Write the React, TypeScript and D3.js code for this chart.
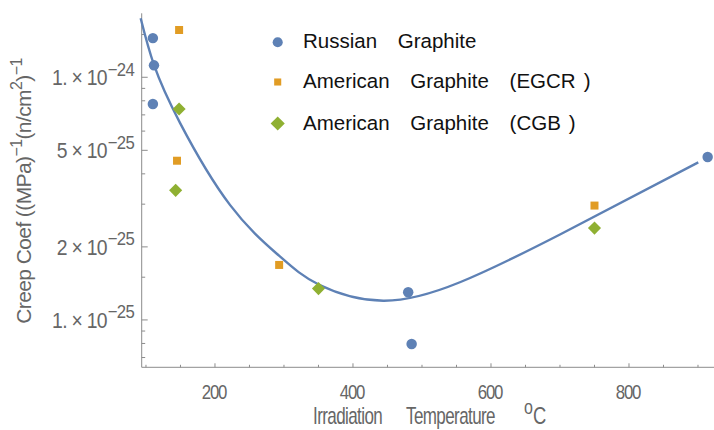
import React from 'react';
import * as d3 from 'd3';

// Russian graphite
const russianTemp = [110, 111.6, 110, 480, 485, 914];
const russianCoef = [1.45e-24, 1.12e-24, 7.76e-25, 1.3e-25, 7.96e-26, 4.69e-25];
// American graphite (EGCR)
const egcrTemp = [148, 145, 293, 750];
const egcrCoef = [1.566e-24, 4.53e-25, 1.685e-25, 2.96e-25];
// American graphite (CGB)
const cgbTemp = [148, 143, 350, 750];
const cgbCoef = [7.4e-25, 3.42e-25, 1.346e-25, 2.39e-25];
// fitted curve
const fitTemp = [92.3, 111.6, 149.3, 221.7, 292.8, 350.3, 443.9, 555, 700, 900.4];
const fitCoef = [1.75e-24, 1.124e-24, 6.49e-25, 2.98e-25, 1.84e-25, 1.40e-25, 1.2e-25, 1.43e-25, 2.25e-25, 4.46e-25];

const xMajorTicks = [200, 400, 600, 800];
const xMinorTicks = [100, 150, 250, 300, 350, 450, 500, 550, 650, 700, 750, 850, 900];
const yMajorTicks = [1e-24, 5e-25, 2e-25, 1e-25];
const yMantissa = ['1.', '5', '2', '1.'];
const yExponent = ['\u221224', '\u221225', '\u221225', '\u221225'];
const yMinorTicks = [1.5e-24, 9e-25, 8e-25, 7e-25, 6e-25, 4e-25, 3e-25, 1.5e-25, 9e-26, 8e-26, 7e-26];

const legendWords = [['Russian', 'Graphite'], ['American', 'Graphite', '(EGCR'], ['American', 'Graphite', '(CGB']];
const legendClose = ['', ')', ')'];

const BLUE = '#5E81B5';
const ORANGE = '#E19C24';
const GREEN = '#8FB032';
const AXIS = '#8c8c8c';
const TEXT = '#666666';
const FONT = '"Liberation Sans", Arial, sans-serif';

export default function App() {
  const W = 714, H = 430;
  const x = d3.scaleLinear().domain([93.8, 923.2]).range([141.7, 714]);
  const y = d3.scaleLog().domain([6.38e-26, 1.835e-24]).range([367.3, 13.3]);
  const x0 = x.range()[0];
  const yb = y.range()[0];

  const fitPts: [number, number][] = fitTemp.map((t, i) => [x(t), y(fitCoef[i])]);
  const line = d3.line().curve(d3.curveNatural)(fitPts) || '';

  const circle = d3.symbol(d3.symbolCircle, 86)() || '';
  const square = d3.symbol(d3.symbolSquare, 64)() || '';
  const diamond = d3.symbol(d3.symbolSquare, 86)() || '';
  const lCircle = d3.symbol(d3.symbolCircle, 80)() || '';
  const lSquare = d3.symbol(d3.symbolSquare, 50)() || '';
  const lDiamond = d3.symbol(d3.symbolSquare, 100)() || '';

  const legendMarkers = [
    { d: lCircle, fill: BLUE, rot: 0 },
    { d: lSquare, fill: ORANGE, rot: 0 },
    { d: lDiamond, fill: GREEN, rot: 45 },
  ];
  const legendRowY = [42.3, 82, 123.5];

  return (
    <svg width={W} height={H} style={{ position: 'absolute', left: 0, top: 0, background: '#fff' }} fontFamily={FONT}>
      {/* axes */}
      <line x1={x0} x2={x0} y1={13.3} y2={yb} stroke={AXIS} strokeWidth={1} />
      <line x1={x0} x2={W} y1={yb} y2={yb} stroke={AXIS} strokeWidth={1} />
      {xMajorTicks.map((t) => (
        <line key={'xM' + t} x1={x(t)} x2={x(t)} y1={yb} y2={yb - 4} stroke={AXIS} />
      ))}
      {xMinorTicks.map((t) => (
        <line key={'xm' + t} x1={x(t)} x2={x(t)} y1={yb} y2={yb - 2.5} stroke={AXIS} />
      ))}
      {yMajorTicks.map((v) => (
        <line key={'yM' + v} x1={x0} x2={x0 + 6} y1={y(v)} y2={y(v)} stroke={AXIS} />
      ))}
      {yMinorTicks.map((v) => (
        <line key={'ym' + v} x1={x0} x2={x0 + 3.5} y1={y(v)} y2={y(v)} stroke={AXIS} />
      ))}
      {xMajorTicks.map((t) => (
        <text key={'xl' + t} transform={`translate(${x(t) - 1},399) scale(0.8,1)`} textAnchor="middle" fontSize={21} letterSpacing={-1.5} fill={TEXT}>
          {t}
        </text>
      ))}
      {yMajorTicks.map((v, i) => (
        <text key={'yl' + v} transform={`translate(134,${y(v) + 8}) scale(0.88,1)`} textAnchor="end" fontSize={22} letterSpacing={-0.8} fill={TEXT}>
          {yMantissa[i] + ' \u00d7 10'}
          <tspan dx={1} dy={-9.5} fontSize={19}>{yExponent[i]}</tspan>
        </text>
      ))}
      {/* axis titles */}
      <text transform="translate(313,424) scale(0.74,1)" fontSize={23} letterSpacing={-0.8} fill={TEXT}>Irradiation</text>
      <text transform="translate(406,424) scale(0.74,1)" fontSize={23} letterSpacing={-0.8} fill={TEXT}>Temperature</text>
      <text transform="translate(524,424) scale(0.8,1)" fontSize={23} fill={TEXT}>
        <tspan dy={-10} fontSize={20}>o</tspan>
        <tspan dx={0} dy={10}>C</tspan>
      </text>
      <text transform={`translate(31,191) rotate(-90)`} textAnchor="middle" fontSize={21} letterSpacing={-0.6} fill={TEXT}>
        Creep Coef ((MPa)
        <tspan dy={-9} fontSize={16}>{'\u22121'}</tspan>
        <tspan dy={9}>(n/cm</tspan>
        <tspan dy={-9} fontSize={16}>2</tspan>
        <tspan dy={9}>)</tspan>
        <tspan dy={-9} fontSize={16}>{'\u22121'}</tspan>
      </text>

      {/* fit curve */}
      <path d={line} fill="none" stroke={BLUE} strokeWidth={2.4} />

      {/* data */}
      {russianTemp.map((t, i) => (
        <path key={'r' + i} d={circle} transform={`translate(${x(t)},${y(russianCoef[i])})`} fill={BLUE} />
      ))}
      {egcrTemp.map((t, i) => (
        <path key={'e' + i} d={square} transform={`translate(${x(t)},${y(egcrCoef[i])})`} fill={ORANGE} />
      ))}
      {cgbTemp.map((t, i) => (
        <path key={'c' + i} d={diamond} transform={`translate(${x(t)},${y(cgbCoef[i])}) rotate(45)`} fill={GREEN} />
      ))}

      {/* legend */}
      {legendWords.map((words, i) => (
        <g key={'lg' + i}>
          <path d={legendMarkers[i].d} transform={`translate(277.7,${legendRowY[i]}) rotate(${legendMarkers[i].rot})`} fill={legendMarkers[i].fill} />
          <text x={303} y={legendRowY[i] + 6} fontSize={20.5} wordSpacing={15} fill="#111">
            {words.join(' ')}
            {legendClose[i] ? <tspan dx={8}>{legendClose[i]}</tspan> : null}
          </text>
        </g>
      ))}
    </svg>
  );
}
